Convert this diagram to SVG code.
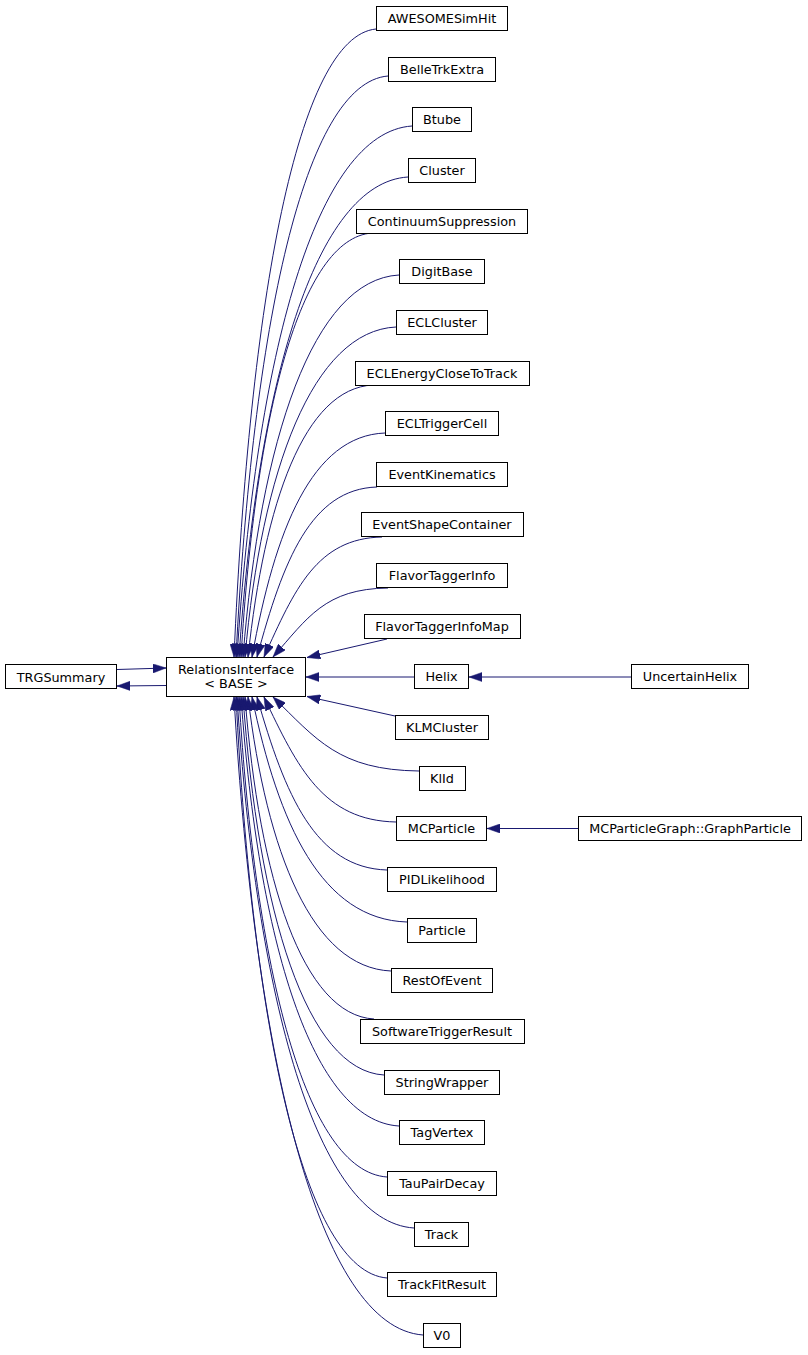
<svg xmlns="http://www.w3.org/2000/svg" width="808" height="1355" viewBox="0 0 808 1355">
<style>
.n rect{fill:#fff;stroke:#000;stroke-width:1}
.n text{font-family:"DejaVu Sans","Liberation Sans",sans-serif;font-size:12.8px;fill:#000;text-anchor:middle}
.e path{fill:none;stroke:#191970;stroke-width:1;marker-end:url(#ah)}
</style>
<defs>
<marker id="ah" markerUnits="userSpaceOnUse" viewBox="0 0 13.3 9.3" markerWidth="13.3" markerHeight="9.3" refX="13.3" refY="4.65" orient="auto">
<path d="M0,0 L13.3,4.65 L0,9.3 Z" fill="#191970" stroke="#191970" stroke-width="0.5"/>
</marker>
</defs>
<rect width="808" height="1355" fill="#fff"/>
<g id="edges" class="e">
<path d="M117,669.5 L166,668"/>
<path d="M166,685.5 L117,686"/>
<path d="M376,29 C297.9,36.5 249.6,299 234,657"/>
<path d="M388,76 C304.4,83 252.7,325.8 236,657"/>
<path d="M412,126 C315.8,132.4 256.3,354.3 237,657"/>
<path d="M408,177 C315.1,182.8 257.6,383.4 239,657"/>
<path d="M372,233 C300,238.1 255.4,415.3 241,657"/>
<path d="M399,275 C313.2,279.6 260.2,439.3 243,657"/>
<path d="M396,327 C313,331 261.6,468.9 245,657"/>
<path d="M373,385 C304.3,388.3 264.6,502 248,657"/>
<path d="M385,433 C311.9,435.7 275,529.3 252,657"/>
<path d="M377,487 C311,489 283.2,560.1 257,657"/>
<path d="M382,537 C317.1,538.4 294.7,588.6 264,657"/>
<path d="M388,588 C324.8,588.8 307.8,617.7 273,657"/>
<path d="M387,639 L307,657.5"/>
<path d="M414,677 L306,677"/>
<path d="M631,677 L469,677"/>
<path d="M395,716 L307,696.5"/>
<path d="M419,771 C338.7,770.1 316.5,739.2 273,697"/>
<path d="M396,822 C323.4,820.5 297.8,768.3 264,697"/>
<path d="M578,828.5 L487,828.5"/>
<path d="M387,870 C315.5,867.9 285.1,795.6 257,697"/>
<path d="M407,922 C321.8,919.3 278.7,825.3 252,697"/>
<path d="M391,971 C312.4,967.7 266.9,853.2 248,697"/>
<path d="M374,1019 C303.1,1015.1 259.2,880.5 245,697"/>
<path d="M384,1075 C306.5,1070.5 258.5,912.5 243,697"/>
<path d="M399,1126 C312.1,1120.9 258.4,941.5 241,697"/>
<path d="M387,1177 C305.6,1171.2 255.3,970.6 239,697"/>
<path d="M414,1228 C316.7,1221.6 256.5,999.7 237,697"/>
<path d="M387,1278 C304,1271 252.6,1028.2 236,697"/>
<path d="M423,1335 C319,1327.3 254.8,1060.7 234,697"/>
</g>
<g id="TRGSummary" class="n"><rect x="5.5" y="664.5" width="111" height="24"/><text x="61" y="681.5">TRGSummary</text></g>
<g id="RelationsInterface" class="n"><rect x="166.5" y="657.5" width="139" height="39"/><text x="236" y="673.5">RelationsInterface</text><text x="236" y="688">&lt; BASE &gt;</text></g>
<g id="AWESOMESimHit" class="n"><rect x="376.5" y="6.5" width="131" height="24"/><text x="442" y="23">AWESOMESimHit</text></g>
<g id="BelleTrkExtra" class="n"><rect x="388.5" y="57.5" width="107" height="24"/><text x="442" y="74">BelleTrkExtra</text></g>
<g id="Btube" class="n"><rect x="412.5" y="107.5" width="59" height="24"/><text x="442" y="124">Btube</text></g>
<g id="Cluster" class="n"><rect x="408.5" y="158.5" width="67" height="24"/><text x="442" y="175">Cluster</text></g>
<g id="ContinuumSuppression" class="n"><rect x="356.5" y="209.5" width="171" height="24"/><text x="442" y="226">ContinuumSuppression</text></g>
<g id="DigitBase" class="n"><rect x="399.5" y="259.5" width="85" height="24"/><text x="442" y="276">DigitBase</text></g>
<g id="ECLCluster" class="n"><rect x="396.5" y="310.5" width="91" height="24"/><text x="442" y="327">ECLCluster</text></g>
<g id="ECLEnergyCloseToTrack" class="n"><rect x="355.5" y="361.5" width="174" height="24"/><text x="442" y="378">ECLEnergyCloseToTrack</text></g>
<g id="ECLTriggerCell" class="n"><rect x="385.5" y="411.5" width="113" height="24"/><text x="442" y="428">ECLTriggerCell</text></g>
<g id="EventKinematics" class="n"><rect x="376.5" y="462.5" width="131" height="24"/><text x="442" y="479">EventKinematics</text></g>
<g id="EventShapeContainer" class="n"><rect x="361.5" y="512.5" width="162" height="24"/><text x="442" y="529">EventShapeContainer</text></g>
<g id="FlavorTaggerInfo" class="n"><rect x="376.5" y="563.5" width="131" height="24"/><text x="442" y="580">FlavorTaggerInfo</text></g>
<g id="FlavorTaggerInfoMap" class="n"><rect x="364.5" y="614.5" width="156" height="24"/><text x="442" y="631">FlavorTaggerInfoMap</text></g>
<g id="Helix" class="n"><rect x="414.5" y="664.5" width="54" height="24"/><text x="441.5" y="681">Helix</text></g>
<g id="UncertainHelix" class="n"><rect x="631.5" y="664.5" width="117" height="24"/><text x="690" y="681">UncertainHelix</text></g>
<g id="KLMCluster" class="n"><rect x="395.5" y="715.5" width="93" height="24"/><text x="442" y="732">KLMCluster</text></g>
<g id="KlId" class="n"><rect x="419.5" y="766.5" width="46" height="24"/><text x="442" y="783">KlId</text></g>
<g id="MCParticle" class="n"><rect x="396.5" y="816.5" width="90" height="24"/><text x="441.5" y="833">MCParticle</text></g>
<g id="MCParticleGraph_GraphParticle" class="n"><rect x="578.5" y="816.5" width="223" height="24"/><text x="690" y="833">MCParticleGraph::GraphParticle</text></g>
<g id="PIDLikelihood" class="n"><rect x="387.5" y="867.5" width="109" height="24"/><text x="442" y="884">PIDLikelihood</text></g>
<g id="Particle" class="n"><rect x="407.5" y="918.5" width="69" height="24"/><text x="442" y="935">Particle</text></g>
<g id="RestOfEvent" class="n"><rect x="391.5" y="968.5" width="101" height="24"/><text x="442" y="985">RestOfEvent</text></g>
<g id="SoftwareTriggerResult" class="n"><rect x="360.5" y="1019.5" width="164" height="24"/><text x="442" y="1036">SoftwareTriggerResult</text></g>
<g id="StringWrapper" class="n"><rect x="384.5" y="1070.5" width="115" height="24"/><text x="442" y="1087">StringWrapper</text></g>
<g id="TagVertex" class="n"><rect x="399.5" y="1120.5" width="85" height="24"/><text x="442" y="1137">TagVertex</text></g>
<g id="TauPairDecay" class="n"><rect x="387.5" y="1171.5" width="109" height="24"/><text x="442" y="1188">TauPairDecay</text></g>
<g id="Track" class="n"><rect x="414.5" y="1222.5" width="54" height="24"/><text x="441.5" y="1239">Track</text></g>
<g id="TrackFitResult" class="n"><rect x="387.5" y="1272.5" width="109" height="24"/><text x="442" y="1289">TrackFitResult</text></g>
<g id="V0" class="n"><rect x="423.5" y="1323.5" width="37" height="24"/><text x="442" y="1340">V0</text></g>
</svg>
